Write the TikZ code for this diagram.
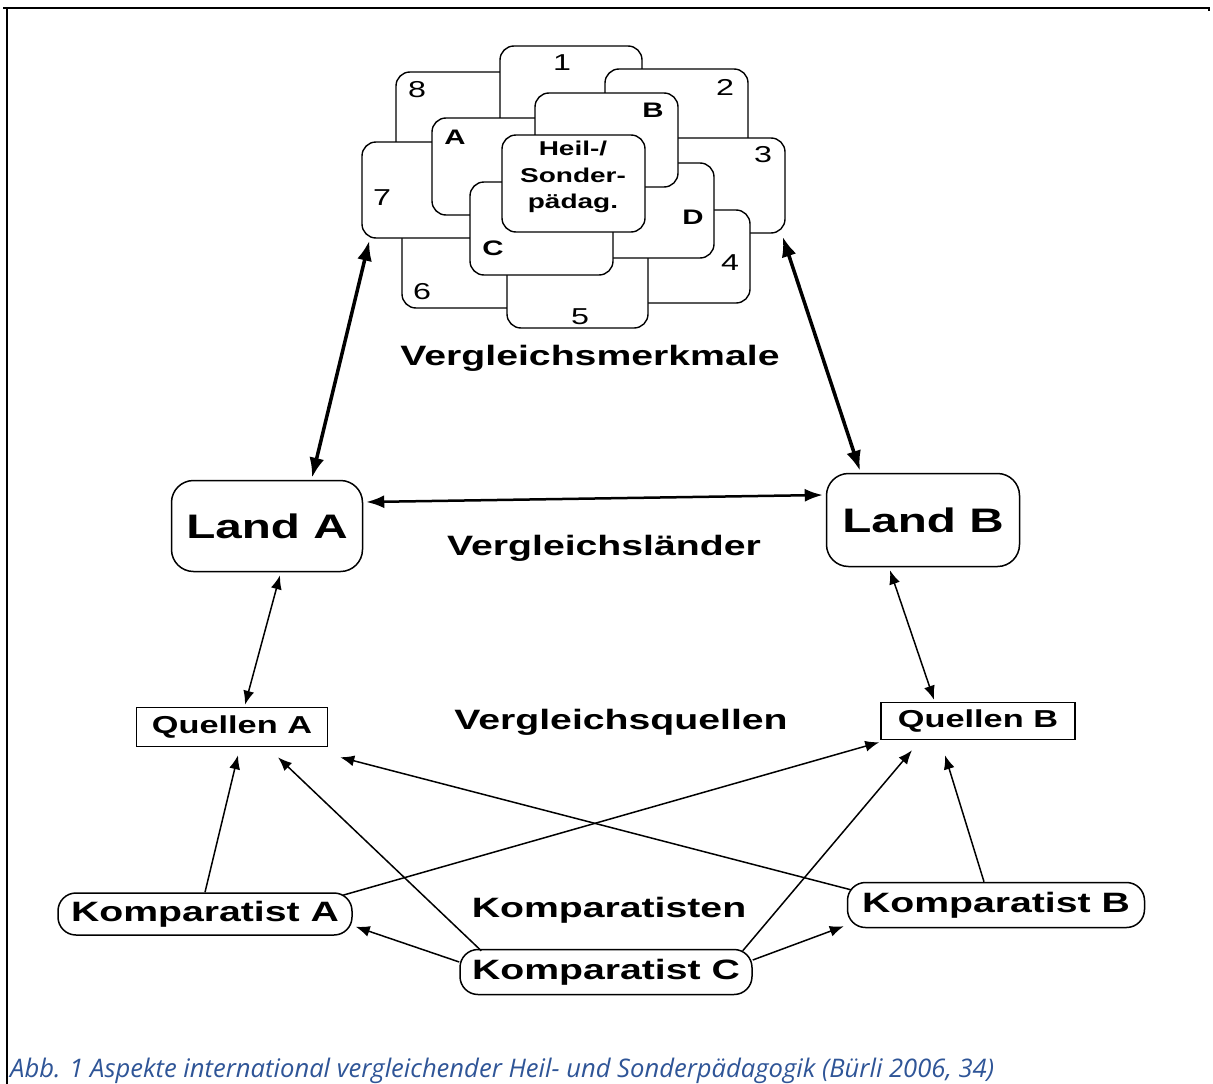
\documentclass[tikz,border=0pt]{standalone}
\usepackage{fontspec}
\usetikzlibrary{arrows.meta}
\newfontfamily\dfont{Liberation Sans}[FakeStretch=1.4]
\newfontfamily\capfont{Open Sans}
\definecolor{capblue}{RGB}{47,85,151}
\tikzset{
  cbox/.style={draw, fill=white, rounded corners=14pt, line width=1.4pt, inner sep=0pt},
  num/.style={font=\dfont\fontsize{23}{25}\selectfont, inner sep=0pt},
  let/.style={font=\dfont\bfseries\fontsize{21}{23}\selectfont, inner sep=0pt},
  lab/.style={font=\dfont\bfseries\fontsize{28}{30}\selectfont, inner sep=0pt},
  landbox/.style={draw, rounded corners=22pt, line width=1.5pt, font=\dfont\bfseries\fontsize{34}{36}\selectfont},
  qbox/.style={draw, line width=1.5pt, font=\dfont\bfseries\fontsize{24.5}{26}\selectfont, inner sep=0pt},
  kbox/.style={draw, rounded corners=18pt, line width=1.5pt, font=\dfont\bfseries\fontsize{28}{30}\selectfont, inner sep=0pt},
  thin/.style={line width=1.5pt, -{Latex[length=14pt,width=11pt]}},
  thinboth/.style={line width=1.5pt, {Latex[length=14pt,width=11pt]}-{Latex[length=14pt,width=11pt]}},
  midboth/.style={line width=2.5pt, {Latex[length=18pt,width=13pt]}-{Latex[length=18pt,width=13pt]}},
  thickboth/.style={line width=3.5pt, {Latex[length=20pt,width=15pt]}-{Latex[length=20pt,width=15pt]}}
}
\begin{document}
\begin{tikzpicture}[x=1pt,y=-1pt]
\useasboundingbox (0,0) rectangle (1213,1084);
% frame
\draw[line width=2.5pt] (3,8) -- (1210,8);
\draw[line width=2.5pt] (7,8) -- (7,1084);
\draw[line width=2.5pt] (1209,8) -- (1209,11);

% cluster (back to front)
\node[cbox, minimum width=144, minimum height=98] (b8) at (468,121) {};
\node[cbox, minimum width=142, minimum height=104] (b1) at (571,98) {};
\node[cbox, minimum width=143, minimum height=101] (b2) at (676.5,119.5) {};
\node[cbox, minimum width=145, minimum height=95] (b3) at (712.5,185.5) {};
\node[cbox, minimum width=130, minimum height=93] (b4) at (685,256.5) {};
\node[cbox, minimum width=138, minimum height=108] (b6) at (471,254) {};
\node[cbox, minimum width=141, minimum height=88] (b5) at (577.5,284) {};
\node[cbox, minimum width=138, minimum height=96] (b7) at (431,190) {};
\node[cbox, minimum width=143, minimum height=97] (bA) at (503.5,166.5) {};
\node[cbox, minimum width=139, minimum height=95] (bD) at (644.5,210.5) {};
\node[cbox, minimum width=143, minimum height=94] (bB) at (606.5,140) {};
\node[cbox, minimum width=143, minimum height=93] (bC) at (541.5,228.5) {};
\node[cbox, minimum width=143, minimum height=97] (heil) at (573.5,183.5) {};

\node[num] (n1) at (562,63) {1};
\node[num] (n2) at (725,87) {2};
\node[num] (n3) at (763,155) {3};
\node[num] (n4) at (730,263) {4};
\node[num] (n5) at (580,317) {5};
\node[num] (n6) at (422,292) {6};
\node[num] (n7) at (382,198) {7};
\node[num] (n8) at (417,90) {8};
\node[let] (lA) at (455,137) {A};
\node[let] (lB) at (653,110) {B};
\node[let] (lC) at (493,248) {C};
\node[let] (lD) at (693,217) {D};
\node[align=center, font=\dfont\bfseries\fontsize{20}{26.5}\selectfont, inner sep=0pt] (heiltxt) at (573,177) {Heil-/\\Sonder-\\pädag.};

% labels
\node[lab] (vm) at (590,358) {Vergleichsmerkmale};
\node[lab] (vl) at (604,548) {Vergleichsländer};
\node[lab] (vq) at (621,722) {Vergleichsquellen};
\node[lab] (vk) at (609,910) {Komparatisten};

% main boxes
\node[landbox, minimum width=191, minimum height=91, inner sep=0pt] (la) at (267,526) {Land A};
\node[landbox, minimum width=193, minimum height=93, inner sep=0pt] (lb) at (923,520) {Land B};
\node[qbox, minimum width=191, minimum height=39] (qa) at (232,727) {Quellen A};
\node[qbox, minimum width=194, minimum height=37] (qb) at (978,721) {Quellen B};
\node[kbox, minimum width=294, minimum height=42] (ka) at (205,914) {Komparatist A};
\node[kbox, minimum width=297, minimum height=45] (kb) at (996,905) {Komparatist B};
\node[kbox, minimum width=292, minimum height=45] (kc) at (606,972) {Komparatist C};

% connectors
\draw[thickboth] ([xshift=8pt,yshift=-2pt]b7.south west) -- ([xshift=45pt,yshift=2pt]la.north);
\draw[thickboth] ([xshift=-3pt,yshift=-3pt]b3.south east) -- ([xshift=-63pt,yshift=2pt]lb.north);
\draw[midboth] ([xshift=3pt,yshift=24pt]la.east) -- ([xshift=-3pt,yshift=25pt]lb.west);
\draw[thinboth] ([xshift=13pt,yshift=-3pt]la.south) -- ([xshift=13pt,yshift=2pt]qa.north);
\draw[thinboth] ([xshift=-33pt,yshift=-3pt]lb.south) -- ([xshift=-44pt,yshift=2pt]qb.north);

\draw[thin] (ka.north) -- ([xshift=6pt,yshift=-8pt]qa.south);
\draw[thin] ([xshift=22pt,yshift=-2pt]kc.north west) -- ([xshift=46pt,yshift=-10pt]qa.south);
\draw[thin] ([xshift=4pt,yshift=-8pt]kb.north west) -- ([xshift=12pt,yshift=-10pt]qa.south east);
\draw[thin] ([xshift=-10pt,yshift=-3pt]ka.north east) -- ([xshift=-1pt,yshift=-2pt]qb.south west);
\draw[thin] ([xshift=-10pt,yshift=-2pt]kc.north east) -- ([xshift=-66pt,yshift=-10pt]qb.south);
\draw[thin] ([xshift=-12pt]kb.north) -- ([xshift=-33pt,yshift=-15pt]qb.south);
\draw[thin] ([yshift=10pt]kc.west) -- ([xshift=3pt,yshift=9pt]ka.south east);
\draw[thin] ([yshift=12pt]kc.east) -- ([xshift=-3pt,yshift=2pt]kb.south west);

% caption
\node[anchor=base west, inner sep=0pt, text=capblue, font=\capfont\itshape\fontsize{25.6}{30}\selectfont] (cap) at (10,1077) {Abb. 1 Aspekte international vergleichender Heil- und Sonderpädagogik (Bürli 2006, 34)};
\end{tikzpicture}
\end{document}
